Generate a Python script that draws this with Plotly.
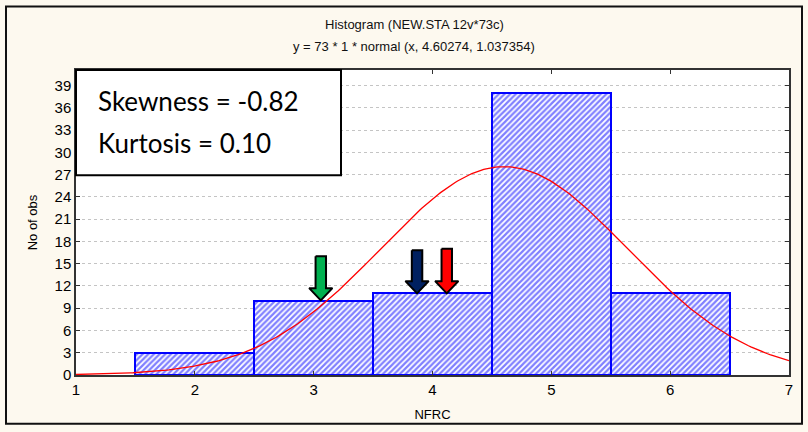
import numpy as np
import plotly.graph_objects as go

# ---- data ----
bin_centers = [2, 3, 4, 5, 6]
counts = [3, 10, 11, 38, 11]
n_obs = 73
bin_width = 1
fit_mean = 4.60274
fit_sd = 1.037354
x_ticks = [1, 2, 3, 4, 5, 6, 7]
y_ticks = list(range(0, 40, 3))
title_text = "Histogram (NEW.STA 12v*73c)"
subtitle_text = "y = 73 * 1 * normal (x, 4.60274, 1.037354)"
stats_lines = ["Skewness = -0.82", "Kurtosis = 0.10"]
arrow_x = [3.06, 3.87, 4.12]
arrow_tip = [10.05, 11.0, 11.0]
arrow_top = [16.0, 16.8, 17.0]
arrow_colors = ["#00B050", "#002060", "#FF0000"]

# ---- layout geometry (pixels) ----
W, H = 808, 432
ML, MR, MT, MB = 76, 19, 70, 55
PW, PH = W - ML - MR, H - MT - MB

def px_x(p):
    return (p - ML) / PW

def px_y(p):
    return (H - MB - p) / PH

fig = go.Figure()

# histogram bars
fig.add_trace(go.Bar(
    x=bin_centers, y=counts, width=bin_width,
    marker=dict(color="white",
                line=dict(color="#0000FF", width=2),
                pattern=dict(shape="/", fgcolor="#0000FF", bgcolor="white",
                             size=4, solidity=0.55)),
    showlegend=False, hoverinfo="skip"))

# fitted normal curve from the stated parameters
xc = np.linspace(x_ticks[0], x_ticks[-1], 300)
yc = n_obs * bin_width * np.exp(-0.5 * ((xc - fit_mean) / fit_sd) ** 2) / (fit_sd * np.sqrt(2 * np.pi))
fig.add_trace(go.Scatter(x=xc, y=yc, mode="lines",
                         line=dict(color="#FF0000", width=1.3),
                         showlegend=False, hoverinfo="skip"))

# block arrows
shaft_hw = 0.044
head_hw = 0.098
head_h = 1.65
for ax, tip, top, col in zip(arrow_x, arrow_tip, arrow_top, arrow_colors):
    hb = tip + head_h
    xs = [ax - shaft_hw, ax + shaft_hw, ax + shaft_hw, ax + head_hw, ax,
          ax - head_hw, ax - shaft_hw, ax - shaft_hw]
    ys = [top, top, hb, hb, tip, hb, hb, top]
    fig.add_trace(go.Scatter(x=xs, y=ys, mode="lines", fill="toself",
                             fillcolor=col, line=dict(color="black", width=2),
                             showlegend=False, hoverinfo="skip"))

axis_font = dict(family="Liberation Sans, Arial, sans-serif", size=15, color="#000000")

fig.update_layout(
    width=W, height=H,
    margin=dict(l=ML, r=MR, t=MT, b=MB),
    paper_bgcolor="#FDF9EF",
    plot_bgcolor="white",
    bargap=0,
    xaxis=dict(range=[1, 7], tickvals=x_ticks, ticks="inside", ticklen=4,
               tickcolor="#333333", showgrid=False, zeroline=False,
               showline=True, linecolor="#333333", linewidth=1.5, mirror="ticks",
               tickfont=axis_font,
               title=dict(text="NFRC", font=dict(family="Liberation Sans, Arial", size=13, color="#000000"),
                          standoff=13)),
    yaxis=dict(range=[0, 41.1], tickvals=y_ticks, ticks="inside", ticklen=4,
               tickcolor="#333333", showgrid=True, gridcolor="#C4C4C4",
               griddash="dot", gridwidth=1, zeroline=False,
               showline=True, linecolor="#333333", linewidth=1.5, mirror="ticks",
               tickfont=axis_font,
               title=dict(text="No of obs", font=dict(family="Liberation Sans, Arial", size=13, color="#000000"),
                          standoff=14)),
    shapes=[
        dict(type="rect", xref="paper", yref="paper",
             x0=px_x(6), x1=px_x(802), y0=px_y(426), y1=px_y(6),
             line=dict(color="#111111", width=2), fillcolor="rgba(0,0,0,0)", layer="below"),
        dict(type="rect", xref="paper", yref="paper",
             x0=0, x1=px_x(341), y0=px_y(176), y1=1,
             line=dict(color="black", width=2), fillcolor="white", layer="above"),
    ],
    annotations=[
        dict(text=title_text, xref="paper", yref="paper", x=px_x(414), y=px_y(24),
             showarrow=False, xanchor="center", yanchor="middle",
             font=dict(family="Liberation Sans, Arial", size=13, color="#111111")),
        dict(text=subtitle_text, xref="paper", yref="paper", x=px_x(414), y=px_y(46),
             showarrow=False, xanchor="center", yanchor="middle",
             font=dict(family="Liberation Sans, Arial", size=13, color="#111111")),
        dict(text=stats_lines[0], xref="paper", yref="paper", x=px_x(96), y=px_y(101),
             showarrow=False, xanchor="left", yanchor="middle",
             font=dict(family="Lato, sans-serif", size=26, color="black")),
        dict(text=stats_lines[1], xref="paper", yref="paper", x=px_x(96), y=px_y(143),
             showarrow=False, xanchor="left", yanchor="middle",
             font=dict(family="Lato, sans-serif", size=26, color="black")),
    ],
)

fig.write_html("out.html")
